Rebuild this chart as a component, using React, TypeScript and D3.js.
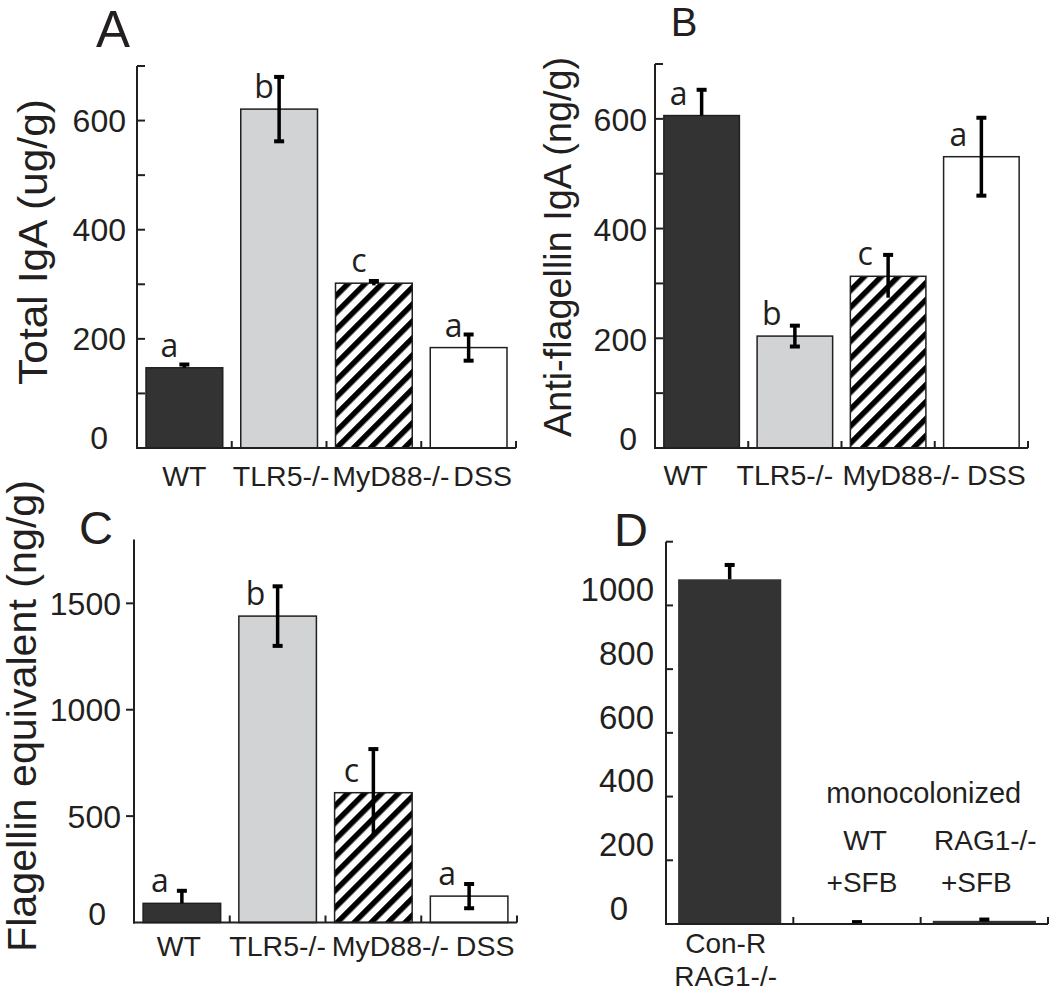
import React from 'react';
import * as d3 from 'd3';

// ---------- DATA ----------
const categoriesABC = ['WT', 'TLR5-/-', 'MyD88-/-', 'DSS'];
const fillKinds = ['dark', 'gray', 'hatch', 'white'];

const totalIgA = [147, 621, 302, 184];
const totalIgAErr = [6, 59, 4, 24];
const totalIgALetters = ['a', 'b', 'c', 'a'];

const antiFlagellinIgA = [606, 204, 313, 531];
const antiFlagellinIgAErr = [47, 19, 39, 71];
const antiFlagellinLetters = ['a', 'b', 'c', 'a'];

const flagellinEquivalent = [90, 1440, 610, 124];
const flagellinEquivalentErr = [59, 140, 205, 57];
const flagellinLetters = ['a', 'b', 'c', 'a'];

const categoriesD = [['Con-R', 'RAG1-/-'], ['WT', '+SFB'], ['RAG1-/-', '+SFB']];
const valuesD = [1082, 1, 10];
const errD = [45, 5, 4];
const fillKindsD = ['dark', 'dark', 'dark'];
const groupNoteD = 'monocolonized';

const ticksAB = [100, 200, 300, 400, 500, 600, 700];
const tickLabelsAB = [0, 200, 400, 600];
const ticksC = [500, 1000, 1500];
const tickLabelsC = [0, 500, 1000, 1500];
const ticksD = [200, 400, 600, 800, 1000, 1200];
const tickLabelsD = [0, 200, 400, 600, 800, 1000];

// ---------- STYLE ----------
const INK = '#231f20';
const DARK = '#333333';
const GRAY = '#d1d3d4';
const SANS = '"Liberation Sans", Arial, Helvetica, sans-serif';
const MYRIAD = '"Open Sans", "Noto Sans", sans-serif';

function fillFor(kind: string) {
  if (kind === 'dark') return DARK;
  if (kind === 'gray') return GRAY;
  if (kind === 'hatch') return 'url(#hatch)';
  return '#ffffff';
}

type PanelProps = {
  cats: string[];
  values: number[];
  errs: number[];
  letters: string[];
  fills: string[];
  ticks: number[];
  tickLabels: number[];
  L: any;
};

function BarPanel({ cats, values, errs, letters, fills, ticks, tickLabels, L }: PanelProps) {
  const x = d3.scaleBand<string>().domain(cats).range([L.axisX, L.xEnd]).paddingInner(0.19).paddingOuter(0.095);
  const y = d3.scaleLinear().domain([0, L.yMax]).range([L.base, L.top]);
  const step = x.step();
  const bw = x.bandwidth();
  return (
    <g>
      <text x={L.panelX} y={L.panelY} fontFamily={SANS} fontSize={L.panelFont} fill={INK} textAnchor="middle">{L.panel}</text>
      <text transform={`translate(${L.titleX},${L.titleY}) rotate(-90)`} fontFamily={SANS} fontSize={L.titleFont}
        fill={INK} textAnchor="middle" textLength={L.titleLen} lengthAdjust="spacingAndGlyphs">{L.title}</text>
      {cats.map((c, i) => (
        <rect key={'b' + i} x={x(c)} y={y(values[i])} width={bw} height={L.base - y(values[i])}
          fill={fillFor(fills[i])} stroke={INK} strokeWidth={1.5} />
      ))}
      {cats.map((c, i) => {
        const cx = (x(c) as number) + bw / 2;
        const y1 = y(values[i] + errs[i]);
        const dark = fills[i] === 'dark';
        const y0 = dark ? y(values[i]) : y(Math.max(0, values[i] - errs[i]));
        const lowerCap = fills[i] === 'gray' || fills[i] === 'white';
        return (
          <g key={'e' + i} stroke="#000">
            <line x1={cx} x2={cx} y1={y0} y2={y1} strokeWidth={3.5} />
            <line x1={cx - 5} x2={cx + 5} y1={y1} y2={y1} strokeWidth={4} />
            {lowerCap && <line x1={cx - 5} x2={cx + 5} y1={y0} y2={y0} strokeWidth={4} />}
          </g>
        );
      })}
      {cats.map((c, i) => (
        <text key={'l' + i} x={(x(c) as number) + bw / 2 + L.letterDx} y={y(values[i]) - 11}
          fontFamily={MYRIAD} fontSize={32} fill={INK} textAnchor="middle">{letters[i]}</text>
      ))}
      <line x1={L.axisX} x2={L.axisX} y1={L.top} y2={L.base + 1} stroke={INK} strokeWidth={2} />
      <line x1={L.axisX - 1} x2={L.xEnd} y1={L.base} y2={L.base} stroke={INK} strokeWidth={2} />
      {ticks.map((t) => (
        <line key={'t' + t} x1={L.axisX} x2={L.axisX + L.tickDir * 8} y1={y(t)} y2={y(t)} stroke={INK} strokeWidth={2} />
      ))}
      {cats.map((c, i) => (
        <line key={'xt' + i} x1={L.axisX + step * (i + 1)} x2={L.axisX + step * (i + 1)} y1={L.base} y2={L.base - 7} stroke={INK} strokeWidth={2} />
      ))}
      {tickLabels.map((t) => (
        <text key={'tl' + t} x={L.axisX - L.labelGap + (t === 0 ? L.zeroDx : 0)} y={y(t) + L.labelDy + (t === 0 ? L.zeroDy : 0)} dy="0.358em"
          fontFamily={SANS} fontSize={L.tickFont} fill={INK} textAnchor="end">{t}</text>
      ))}
      {cats.map((c, i) => (
        <text key={'c' + i} x={(x(c) as number) + bw / 2 + L.catDx[i]} y={L.catY}
          fontFamily={SANS} fontSize={28.5} fill={INK} textAnchor="middle">{c}</text>
      ))}
    </g>
  );
}

function PanelD() {
  const axisX = 666, xEnd = 1048, top = 541.7, base = 924;
  const keys = categoriesD.map((c) => c.join(' '));
  const x = d3.scaleBand<string>().domain(keys).range([axisX, xEnd]).paddingInner(0.19).paddingOuter(0.095);
  const y = d3.scaleLinear().domain([0, 1200]).range([base, top]);
  const step = x.step();
  const bw = x.bandwidth();
  const cx = (i: number) => (x(keys[i]) as number) + bw / 2;
  return (
    <g>
      <text x={631} y={546} fontFamily={SANS} fontSize={47} fill={INK} textAnchor="middle">D</text>
      {keys.map((k, i) => (
        <rect key={'b' + i} x={x(k)} y={y(valuesD[i])} width={bw} height={base - y(valuesD[i])} fill={fillFor(fillKindsD[i])} stroke="none" />
      ))}
      {keys.map((k, i) => {
        const y1 = y(valuesD[i] + errD[i]);
        const y0 = y(valuesD[i]);
        return (
          <g key={'e' + i} stroke="#000">
            <line x1={cx(i)} x2={cx(i)} y1={y0} y2={y1} strokeWidth={3.5} />
            <line x1={cx(i) - 5} x2={cx(i) + 5} y1={y1} y2={y1} strokeWidth={4} />
          </g>
        );
      })}
      <line x1={axisX} x2={axisX} y1={top} y2={base + 1} stroke={INK} strokeWidth={2} />
      <line x1={axisX - 1} x2={xEnd} y1={base} y2={base} stroke={INK} strokeWidth={2} />
      {ticksD.map((t) => (
        <line key={'t' + t} x1={axisX} x2={axisX + 7} y1={y(t)} y2={y(t)} stroke={INK} strokeWidth={2} />
      ))}
      {keys.map((k, i) => (
        <line key={'xt' + i} x1={axisX + step * (i + 1)} x2={axisX + step * (i + 1)} y1={base} y2={base - 7} stroke={INK} strokeWidth={2} />
      ))}
      {tickLabelsD.map((t) => (
        <text key={'tl' + t} x={axisX - 12 + (t === 0 ? -26 : 0)} y={y(t) - 16} dy="0.358em"
          fontFamily={SANS} fontSize={33} fill={INK} textAnchor="end">{t}</text>
      ))}
      <text x={cx(0) - 4} y={953} fontFamily={SANS} fontSize={28} fill={INK} textAnchor="middle">{categoriesD[0][0]}</text>
      <text x={cx(0) - 4} y={986} fontFamily={SANS} fontSize={28} fill={INK} textAnchor="middle">{categoriesD[0][1]}</text>
      <text x={(cx(1) + cx(2)) / 2 + 3} y={803} fontFamily={SANS} fontSize={29} fill={INK} textAnchor="middle">{groupNoteD}</text>
      <text x={cx(1) + 8} y={850} fontFamily={SANS} fontSize={28} fill={INK} textAnchor="middle">{categoriesD[1][0]}</text>
      <text x={cx(1) + 5} y={891.5} fontFamily={SANS} fontSize={28} fill={INK} textAnchor="middle">{categoriesD[1][1]}</text>
      <text x={cx(2) + 1} y={850} fontFamily={SANS} fontSize={28} fill={INK} textAnchor="middle">{categoriesD[2][0]}</text>
      <text x={cx(2) - 8} y={891.5} fontFamily={SANS} fontSize={28} fill={INK} textAnchor="middle">{categoriesD[2][1]}</text>
    </g>
  );
}

const layoutA = {
  axisX: 137, xEnd: 516, top: 66, base: 448, yMax: 700, tickDir: 1, tickFont: 32, labelGap: 11,
  zeroDx: -18, zeroDy: -10, labelDy: 0, catY: 486, catDx: [0, 2, 17, 14], letterDx: -15,
  panel: 'A', panelX: 113, panelY: 47, panelFont: 51,
  title: 'Total IgA (ug/g)', titleX: 47, titleY: 242, titleFont: 41, titleLen: 286,
};
const layoutB = {
  axisX: 655, xEnd: 1028, top: 64, base: 448, yMax: 700, tickDir: 1, tickFont: 32, labelGap: 8,
  zeroDx: -10, zeroDy: -10, labelDy: 1, catY: 485, catDx: [-16, -10, 13, 15], letterDx: -23,
  panel: 'B', panelX: 684, panelY: 36, panelFont: 40,
  title: 'Anti-flagellin IgA (ng/g)', titleX: 571, titleY: 247, titleFont: 39, titleLen: 380,
};
const layoutC = {
  axisX: 134, xEnd: 517, top: 539.5, base: 922.5, yMax: 1800, tickDir: -1, tickFont: 32, labelGap: 13,
  zeroDx: -15, zeroDy: -9, labelDy: 0, catY: 956, catDx: [-3, 0, 17, 16], letterDx: -22,
  panel: 'C', panelX: 96, panelY: 544, panelFont: 47,
  title: 'Flagellin equivalent (ng/g)', titleX: 36, titleY: 716, titleFont: 40, titleLen: 472,
};

export default function App() {
  return (
    <svg width={1050} height={993} viewBox="0 0 1050 993"
      style={{ position: 'absolute', left: 0, top: 0, background: '#fff' }}>
      <defs>
        <pattern id="hatch" patternUnits="userSpaceOnUse" width={12} height={12} patternTransform="rotate(45)">
          <rect x={0} y={0} width={12} height={12} fill="#fff" />
          <rect x={0} y={0} width={5.5} height={12} fill="#000" />
        </pattern>
      </defs>
      <rect x={0} y={0} width={1050} height={993} fill="#fff" />
      <BarPanel cats={categoriesABC} values={totalIgA} errs={totalIgAErr} letters={totalIgALetters}
        fills={fillKinds} ticks={ticksAB} tickLabels={tickLabelsAB} L={layoutA} />
      <BarPanel cats={categoriesABC} values={antiFlagellinIgA} errs={antiFlagellinIgAErr} letters={antiFlagellinLetters}
        fills={fillKinds} ticks={ticksAB} tickLabels={tickLabelsAB} L={layoutB} />
      <BarPanel cats={categoriesABC} values={flagellinEquivalent} errs={flagellinEquivalentErr} letters={flagellinLetters}
        fills={fillKinds} ticks={ticksC} tickLabels={tickLabelsC} L={layoutC} />
      <PanelD />
    </svg>
  );
}
